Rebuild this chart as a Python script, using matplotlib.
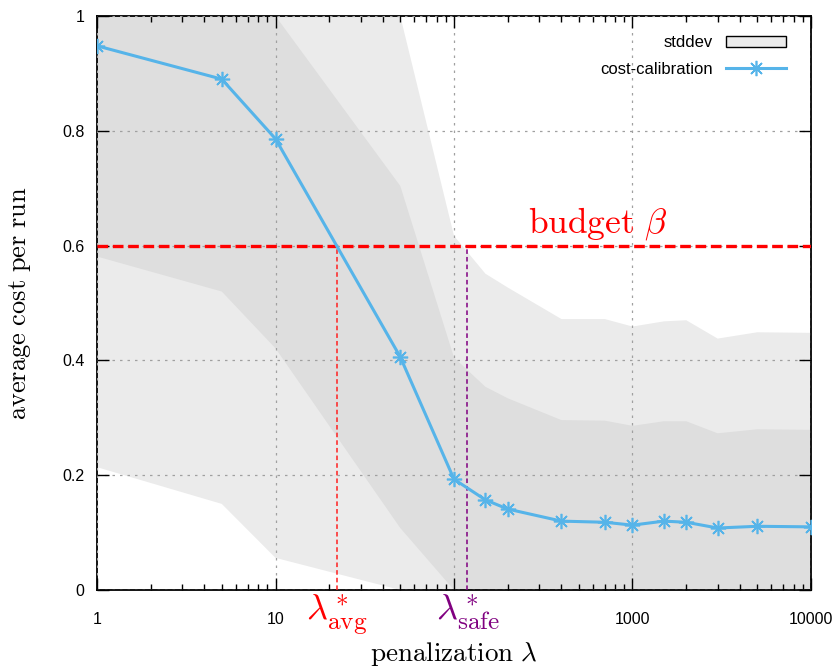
import numpy as np
import matplotlib
matplotlib.use("Agg")
import matplotlib.pyplot as plt
from matplotlib.patches import Patch
from matplotlib.lines import Line2D

plt.rcParams['mathtext.fontset'] = 'cm'
plt.rcParams['font.family'] = ['Liberation Sans', 'DejaVu Sans']

# data
penalization = [1, 5, 10, 50, 100, 150, 200, 400, 700, 1000, 1500, 2000, 3000, 5000, 10000]
mean_cost = [0.948, 0.890, 0.786, 0.406, 0.193, 0.157, 0.141, 0.120, 0.118, 0.113, 0.120, 0.118, 0.108, 0.111, 0.110]
std_cost = [0.367, 0.370, 0.365, 0.298, 0.212, 0.197, 0.193, 0.176, 0.177, 0.173, 0.174, 0.176, 0.165, 0.169, 0.169]
budget = 0.6
lambda_avg = 22
lambda_safe = 119
xtick_vals = [1, 10, 100, 1000, 10000]
xtick_labels = ['1', '10', '', '1000', '10000']
ytick_vals = [0, 0.2, 0.4, 0.6, 0.8, 1.0]
ytick_labels = ['0', '0.2', '0.4', '0.6', '0.8', '1']

x = np.array(penalization, dtype=float)
m = np.array(mean_cost)
s = np.array(std_cost)

fig = plt.figure(figsize=(8.36, 6.70), dpi=100)
ax = fig.add_axes([97/836, 1-590/670, (811-97)/836, (590-16)/670])

ax.fill_between(x, np.clip(m - 2*s, 0, 1), np.clip(m + 2*s, 0, 1), facecolor='#ebebeb', edgecolor='none', zorder=1)
ax.fill_between(x, np.clip(m - s, 0, 1), np.clip(m + s, 0, 1), facecolor='#dedede', edgecolor='none', zorder=1.1)

ax.set_xscale('log')
ax.set_xlim(1, 10000)
ax.set_ylim(0, 1)

ax.grid(True, which='major', color='#a0a0a0', linestyle=(0, (2, 4)), linewidth=0.9)
ax.set_axisbelow(False)

ax.axhline(budget, color='#ff0000', linestyle=(0, (3.2, 1.4)), linewidth=2.4, zorder=4)
ax.plot([lambda_avg, lambda_avg], [0, budget], color='#ff2020', linestyle=(0, (3, 2)), linewidth=1.1, zorder=4)
ax.plot([lambda_safe, lambda_safe], [0, budget], color='#800080', linestyle=(0, (3, 2)), linewidth=1.1, zorder=4)

ax.plot(x, m, color='#56b4e9', linewidth=2.2, marker=(8, 2, 0), markersize=11,
        markeredgewidth=1.2, zorder=5)

ax.text(642, 0.622, r'$\mathrm{budget}\ \beta$', color='#ff0000', fontsize=25.5,
        ha='center', va='baseline')

ax.set_xticks(xtick_vals)
ax.set_xticklabels(xtick_labels)
ax.set_yticks(ytick_vals)
ax.set_yticklabels(ytick_labels)
ax.tick_params(axis='both', which='major', direction='in', length=8.5, width=1.0,
               top=True, right=True, labelsize=11.5)
ax.tick_params(axis='x', which='major', pad=16)
ax.tick_params(axis='x', which='minor', direction='in', length=4.3, width=1.0, top=True)
ax.tick_params(axis='y', which='major', pad=9)
for sp in ax.spines.values():
    sp.set_linewidth(1.3)

ax.text(lambda_avg, -0.005, r'$\lambda^*_{\mathrm{avg}}$', color='#ff0000', fontsize=26,
        ha='center', va='top')
ax.text(lambda_safe, -0.005, r'$\lambda^*_{\mathrm{safe}}$', color='#800080', fontsize=26,
        ha='center', va='top')

ax.set_xlabel(r'$\mathrm{penalization}\ \lambda$', fontsize=19.5, va='center')
ax.xaxis.set_label_coords(0.5, -0.111)
ax.set_ylabel(r'$\mathrm{average\ cost\ per\ run}$', fontsize=19)
ax.yaxis.set_label_coords(-0.0896, 0.5)

handles = [Patch(facecolor='#ebebeb', edgecolor='black', linewidth=1.0),
           Line2D([], [], color='#56b4e9', linewidth=2.2, marker=(8, 2, 0), markersize=11, markeredgewidth=1.2)]
ax.legend(handles, ['stddev', 'cost-calibration'], loc='upper right', frameon=False,
          bbox_to_anchor=(0.975, 0.978), borderaxespad=0,
          markerfirst=False, fontsize=12, handlelength=3.6, handletextpad=0.8,
          labelspacing=0.68)

fig.savefig('out.png', dpi=100)
